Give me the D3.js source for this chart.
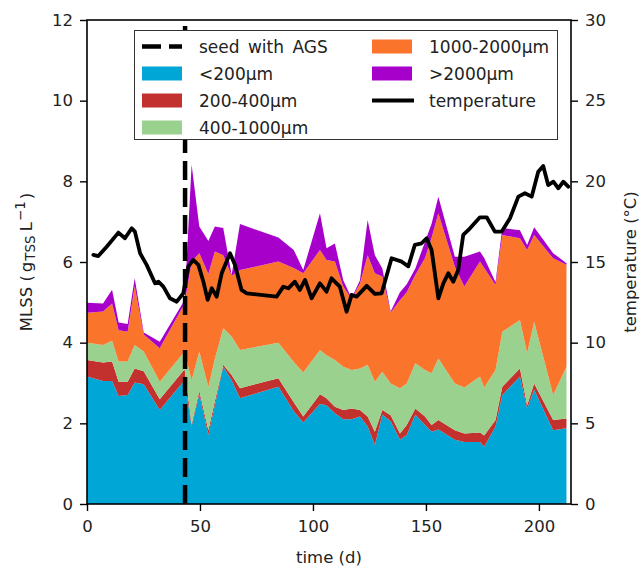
<!DOCTYPE html>
<html>
<head>
<meta charset="utf-8">
<script src="https://cdn.jsdelivr.net/npm/d3@7"></script>
<style>
body { margin: 0; background: #fff; }
text { font-family: "DejaVu Sans", sans-serif; fill: #222; }
</style>
</head>
<body>
<svg id="chart"></svg>
<script>
// sampling days (d)
const days = [0, 7.1, 11.1, 14.0, 18.0, 21.1, 25.1, 32.2, 43.2, 46.3, 49.7, 53.7, 56.6, 60.3, 64.0, 67.7,
  84.7, 91.5, 95.7, 103.1, 106.0, 109.7, 113.4, 117.1, 120.8, 124.2, 127.4, 130.7, 134.4, 138.5, 141.5,
  145.3, 149.6, 152.5, 155.5, 162.8, 167.0, 173.9, 175.8, 180.8, 183.8, 191.6, 194.8, 197.9, 206.3, 212.2];

// MLSS per size class (g/L)
const lt200 = [3.16, 3.05, 3.05, 2.68, 2.70, 3.01, 2.97, 2.33, 3.07, 1.92, 2.72, 1.71, 2.45, 3.40, 3.07, 2.62,
  2.91, 2.30, 2.02, 2.48, 2.45, 2.25, 2.10, 2.10, 2.17, 1.92, 1.46, 2.21, 2.05, 1.59, 1.71,
  2.21, 1.96, 1.79, 1.85, 1.59, 1.54, 1.54, 1.42, 1.92, 2.70, 3.16, 2.37, 2.83, 1.83, 1.88];
const s200_400 = [0.41, 0.46, 0.48, 0.35, 0.33, 0.35, 0.32, 0.27, 0.27, 0.05, 0.08, 0.12, 0.10, 0.05, 0.13, 0.25,
  0.21, 0.22, 0.15, 0.24, 0.17, 0.16, 0.23, 0.27, 0.16, 0.25, 0.33, 0.12, 0.15, 0.16, 0.25,
  0.16, 0.21, 0.17, 0.23, 0.24, 0.21, 0.23, 0.28, 0.16, 0.21, 0.20, 0.08, 0.16, 0.25, 0.24];
const s400_1000 = [0.43, 0.43, 0.52, 0.50, 0.50, 0.58, 0.49, 0.43, 0.44, 1.10, 0.98, 1.07, 1.05, 0.91, 0.95, 0.95,
  0.88, 1.00, 1.09, 1.10, 1.07, 1.16, 1.07, 0.95, 1.03, 1.28, 1.24, 0.95, 0.79, 1.12, 1.03,
  1.12, 1.15, 1.28, 1.53, 1.16, 1.14, 1.39, 1.19, 1.24, 1.36, 1.20, 1.29, 1.53, 0.62, 1.28];
const s1000_2000 = [0.74, 0.83, 0.92, 0.78, 0.74, 1.46, 0.42, 0.83, 1.19, 2.93, 2.44, 2.80, 2.66, 1.81, 1.51, 1.98,
  2.01, 2.33, 2.46, 2.48, 2.36, 2.44, 1.99, 1.76, 2.11, 2.72, 2.69, 2.36, 1.76, 2.18, 2.26,
  2.19, 2.78, 3.36, 3.60, 2.89, 2.50, 2.85, 2.96, 2.11, 2.40, 2.03, 2.56, 2.15, 3.39, 2.53];
const gt2000 = [0.25, 0.20, 0.34, 0.19, 0.19, 0.20, 0.05, 0.16, 0.09, 2.41, 0.66, 0.82, 0.62, 0.67, 0.02, 1.14,
  0.60, 0.45, 0.08, 0.91, 0.29, 0.45, 0.16, 0.02, 0.08, 0.87, 0.45, 0.20, 0.02, 0.20, 0.20,
  0.16, 0.40, 0.35, 0.41, 0.25, 0.74, 0.25, 0.25, 0.07, 0.17, 0.20, 0.12, 0.19, 0.13, 0.04];

// reactor temperature (°C)
const tempDays = [2.8, 5.0, 8.7, 13.9, 16.8, 19.8, 21.2, 23.5, 26.4, 30.1, 31.6, 33.8, 36.7, 39.7, 42.6,
  44.8, 47.0, 49.3, 51.5, 53.4, 55.2, 57.4, 59.6, 63.3, 65.5, 68.4, 70.7, 83.9, 86.9, 89.1, 92.0, 94.2,
  96.5, 99.4, 103.1, 106.0, 108.2, 111.9, 114.9, 117.1, 119.3, 123.8, 127.4, 130.4, 134.8, 139.3, 142.2,
  145.1, 148.1, 150.3, 152.5, 155.5, 157.7, 159.9, 162.1, 164.3, 166.5, 169.5, 173.9, 176.9, 180.5, 183.5,
  187.2, 190.9, 193.8, 196.8, 199.7, 201.9, 204.1, 206.4, 208.6, 210.8, 213.0];
const tempValues = [15.44, 15.37, 15.95, 16.82, 16.47, 17.09, 16.88, 15.54, 14.82, 13.68, 13.78, 13.47, 12.75, 12.54, 13.06,
  14.71, 15.13, 14.82, 13.78, 12.65, 13.37, 12.85, 14.3, 15.54, 14.82, 13.27, 13.06, 12.85, 13.47, 13.37, 13.78, 13.27,
  13.89, 12.75, 13.68, 13.16, 13.99, 13.47, 11.92, 12.96, 12.85, 13.52, 13.02, 13.06, 15.23, 15.02, 14.73,
  16.06, 16.16, 16.47, 15.75, 12.75, 13.68, 14.3, 13.78, 14.51, 16.68, 17.09, 17.77, 17.77, 16.88, 16.88,
  17.71, 19.05, 19.26, 19.05, 20.6, 20.95, 19.77, 19.98, 19.57, 19.98, 19.67];

const seedDay = 43.4;

const classNames = ["<200μm", "200-400μm", "400-1000μm", "1000-2000μm", ">2000μm"];
const classColors = ["#00a6d6", "#c3312f", "#9bd18f", "#fa742c", "#a800cb"];

const xTicks = [0, 50, 100, 150, 200];
const yTicks = [0, 2, 4, 6, 8, 10, 12];
const tTicks = [0, 5, 10, 15, 20, 25, 30];

const W = 641, H = 569;
const margin = { top: 20, right: 70, bottom: 65, left: 87 };
const width = W - margin.left - margin.right;
const height = H - margin.top - margin.bottom;
const fs = 16.5;

const svg = d3.select("#chart").attr("width", W).attr("height", H);
const g = svg.append("g").attr("transform", `translate(${margin.left},${margin.top})`);

const x = d3.scaleLinear().domain([0, 214.2]).range([0, width]);
const y = d3.scaleLinear().domain([0, 12]).range([height, 0]);
const yT = d3.scaleLinear().domain([0, 30]).range([height, 0]);

// stacked areas
const rows = days.map((d, i) => ({
  day: d,
  [classNames[0]]: lt200[i],
  [classNames[1]]: s200_400[i],
  [classNames[2]]: s400_1000[i],
  [classNames[3]]: s1000_2000[i],
  [classNames[4]]: gt2000[i]
}));
const stacked = d3.stack().keys(classNames)(rows);
const area = d3.area()
  .x(d => x(d.data.day))
  .y0(d => y(d[0]))
  .y1(d => y(d[1]));

g.selectAll("path.layer")
  .data(stacked)
  .enter()
  .append("path")
  .attr("class", "layer")
  .attr("fill", (d, i) => classColors[i])
  .attr("d", area);

// seed line
g.append("line")
  .attr("x1", x(seedDay)).attr("x2", x(seedDay))
  .attr("y1", height).attr("y2", 0)
  .attr("stroke", "#000")
  .attr("stroke-width", 4.5)
  .attr("stroke-dasharray", "19,8");

// temperature
const tline = d3.line()
  .x((d, i) => x(tempDays[i]))
  .y(d => yT(d));
g.append("path")
  .datum(tempValues)
  .attr("fill", "none")
  .attr("stroke", "#000")
  .attr("stroke-width", 3.8)
  .attr("stroke-linejoin", "round")
  .attr("stroke-linecap", "round")
  .attr("d", tline);

// axes
function styleAxis(sel) {
  sel.select(".domain").remove();
  sel.selectAll(".tick line").attr("stroke", "#000").attr("stroke-width", 1.4);
  sel.selectAll(".tick text").attr("font-size", fs).attr("font-family", "DejaVu Sans").attr("fill", "#222");
}

g.append("g")
  .attr("transform", `translate(0,${height})`)
  .call(d3.axisBottom(x).tickValues(xTicks).tickSize(7).tickPadding(9))
  .call(styleAxis);

g.append("g")
  .call(d3.axisLeft(y).tickValues(yTicks).tickSize(7).tickPadding(7))
  .call(styleAxis);

g.append("g")
  .attr("transform", `translate(${width},0)`)
  .call(d3.axisRight(yT).tickValues(tTicks).tickSize(7).tickPadding(7))
  .call(styleAxis);

// frame
g.append("rect")
  .attr("width", width).attr("height", height)
  .attr("fill", "none")
  .attr("stroke", "#000")
  .attr("stroke-width", 1.6);

// axis labels
svg.append("text")
  .attr("x", margin.left + width / 2)
  .attr("y", 563)
  .attr("text-anchor", "middle")
  .attr("font-size", fs)
  .text("time (d)");

const yl = svg.append("text")
  .attr("transform", `translate(32,${margin.top + height / 2}) rotate(-90)`)
  .attr("text-anchor", "middle")
  .attr("font-size", fs);
yl.append("tspan").text("MLSS (");
yl.append("tspan").attr("dx", 3).text("g");
yl.append("tspan").attr("font-size", 13.5).attr("dy", 3).attr("dx", 1).text("TSS");
yl.append("tspan").attr("dy", -3).attr("dx", 4).text("L");
yl.append("tspan").attr("font-size", 13.5).attr("dy", -7).attr("dx", 1).text("−1");
yl.append("tspan").attr("dy", 7).attr("dx", 2).text(")");

svg.append("text")
  .attr("transform", `translate(636,${margin.top + height / 2}) rotate(-90)`)
  .attr("text-anchor", "middle")
  .attr("font-size", fs)
  .text("temperature (°C)");

// legend
const leg = svg.append("g");
leg.append("rect")
  .attr("x", 134.5).attr("y", 30.5)
  .attr("width", 423).attr("height", 109)
  .attr("fill", "#fff")
  .attr("stroke", "#333")
  .attr("stroke-width", 1);

const legendItems = [
  { label: "seed with AGS", kind: "dash", col: 0, row: 0 },
  { label: classNames[0], kind: "box", color: classColors[0], col: 0, row: 1 },
  { label: classNames[1], kind: "box", color: classColors[1], col: 0, row: 2 },
  { label: classNames[2], kind: "box", color: classColors[2], col: 0, row: 3 },
  { label: classNames[3], kind: "box", color: classColors[3], col: 1, row: 0 },
  { label: classNames[4], kind: "box", color: classColors[4], col: 1, row: 1 },
  { label: "temperature", kind: "line", col: 1, row: 2 }
];
const colX = [142, 372];
const rowY = [46.5, 73.5, 100.5, 127.5];

legendItems.forEach(it => {
  const lx = colX[it.col], ly = rowY[it.row];
  if (it.kind === "box") {
    leg.append("rect").attr("x", lx).attr("y", ly - 7).attr("width", 40).attr("height", 14).attr("fill", it.color);
  } else if (it.kind === "dash") {
    leg.append("line").attr("x1", lx).attr("x2", lx + 40).attr("y1", ly).attr("y2", ly)
      .attr("stroke", "#000").attr("stroke-width", 4.5).attr("stroke-dasharray", "19,8");
  } else {
    leg.append("line").attr("x1", lx).attr("x2", lx + 42).attr("y1", ly).attr("y2", ly)
      .attr("stroke", "#000").attr("stroke-width", 3.8);
  }
  leg.append("text")
    .attr("x", lx + 57).attr("y", ly)
    .attr("dy", "0.36em")
    .attr("font-size", 17)
    .attr("word-spacing", 3)
    .text(it.label);
});
</script>
</body>
</html>
